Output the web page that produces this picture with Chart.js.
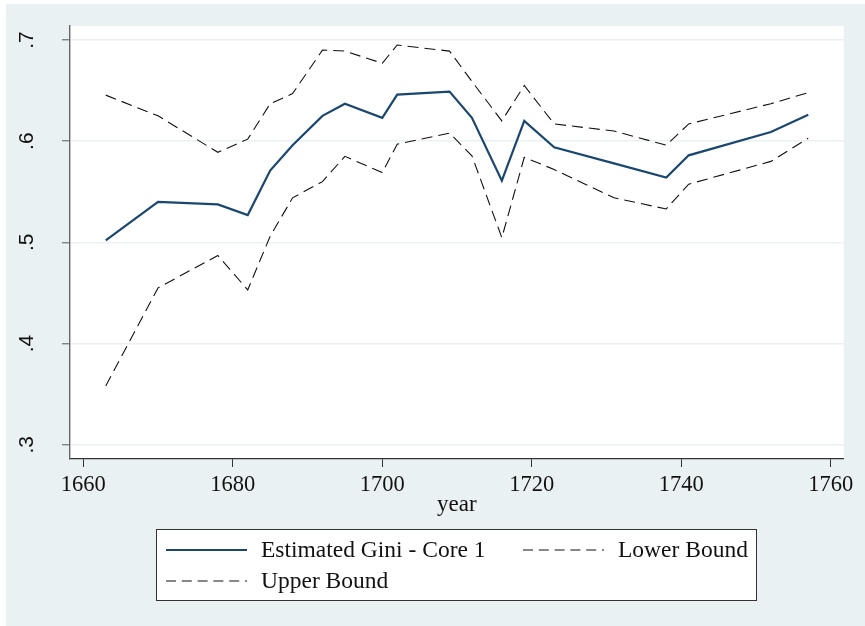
<!DOCTYPE html>
<html>
<head>
<meta charset="utf-8">
<script src="https://cdn.jsdelivr.net/npm/chart.js@4.4.1/dist/chart.umd.min.js"></script>
<style>
  html, body { margin: 0; padding: 0; background: #ffffff; }
  #wrap { width: 865px; height: 626px; position: relative; }
</style>
</head>
<body>
<div id="wrap"><canvas id="c"></canvas></div>
<script>
// ---- data ----
const years = [1663, 1670, 1678, 1682, 1685, 1688, 1692, 1695, 1700, 1702, 1709, 1712, 1716, 1719, 1723, 1731, 1738, 1741, 1752, 1757];
const giniEstimate = [0.502, 0.540, 0.5375, 0.527, 0.571, 0.596, 0.625, 0.637, 0.623, 0.646, 0.649, 0.623, 0.561, 0.620, 0.594, 0.578, 0.564, 0.586, 0.609, 0.626];
const lowerBound = [0.358, 0.455, 0.487, 0.453, 0.506, 0.544, 0.560, 0.585, 0.569, 0.597, 0.608, 0.5855, 0.5046, 0.584, 0.572, 0.544, 0.533, 0.5575, 0.580, 0.603];
const upperBound = [0.6455, 0.625, 0.589, 0.602, 0.637, 0.647, 0.690, 0.689, 0.677, 0.695, 0.689, 0.659, 0.620, 0.655, 0.617, 0.610, 0.596, 0.617, 0.637, 0.648];
const seriesLabels = ['Estimated Gini - Core 1', 'Lower Bound', 'Upper Bound'];
const xTickValues = [1660, 1680, 1700, 1720, 1740, 1760];
const yTickValues = [0.3, 0.4, 0.5, 0.6, 0.7];
const xTitle = 'year';

// ---- style ----
const OUTER = '#eaf1f3';
const GRID = '#eaf1f3';
const NAVY = '#1a476f';
const SERIF = '"Liberation Serif", "DejaVu Serif", serif';
const SANS = '"Liberation Sans", Arial, sans-serif';

const toXY = (arr) => years.map((yr, i) => ({ x: yr, y: arr[i] }));

const bgPlugin = {
  id: 'bg',
  beforeDraw(chart) {
    const { ctx, chartArea: a, width, height } = chart;
    ctx.save();
    ctx.fillStyle = '#ffffff';
    ctx.fillRect(0, 0, width, height);
    ctx.fillStyle = OUTER;
    ctx.fillRect(6, 4, width - 6, height - 4);
    ctx.fillStyle = '#ffffff';
    ctx.fillRect(a.left, a.top, a.right - a.left, a.bottom - a.top);
    ctx.restore();
  }
};

const legendPlugin = {
  id: 'boxLegend',
  afterDraw(chart) {
    const { ctx } = chart;
    ctx.save();
    ctx.fillStyle = '#ffffff';
    ctx.fillRect(156, 529.5, 601, 71);
    ctx.strokeStyle = '#333333';
    ctx.lineWidth = 1;
    ctx.strokeRect(156.5, 529.5, 600, 71);
    const slots = [[166, 550], [523, 550], [166, 581]];
    chart.data.datasets.forEach((ds, i) => {
      const [x, y] = slots[i];
      ctx.beginPath();
      ctx.strokeStyle = ds.borderColor;
      ctx.lineWidth = ds.borderWidth;
      ctx.setLineDash(ds.borderDash && ds.borderDash.length ? [10, 5.8] : []);
      ctx.moveTo(x, y);
      ctx.lineTo(x + 81, y);
      ctx.stroke();
      ctx.setLineDash([]);
      ctx.fillStyle = '#111111';
      ctx.font = '23.5px ' + SERIF;
      ctx.textBaseline = 'middle';
      ctx.textAlign = 'left';
      ctx.fillText(ds.label, x + 95, y + 0.5);
    });
    ctx.restore();
  }
};

new Chart(document.getElementById('c'), {
  type: 'line',
  data: {
    datasets: [
      { label: seriesLabels[0], data: toXY(giniEstimate), borderColor: NAVY, borderWidth: 2.2, pointRadius: 0, tension: 0, fill: false },
      { label: seriesLabels[1], data: toXY(lowerBound), borderColor: '#111111', borderWidth: 1.1, borderDash: [11, 6], pointRadius: 0, tension: 0, fill: false },
      { label: seriesLabels[2], data: toXY(upperBound), borderColor: '#111111', borderWidth: 1.1, borderDash: [11, 6], pointRadius: 0, tension: 0, fill: false }
    ]
  },
  options: {
    responsive: true,
    maintainAspectRatio: false,
    animation: false,
    devicePixelRatio: 1,
    layout: { padding: { left: 0, right: 21.3, top: 26, bottom: 0 } },
    plugins: { legend: { display: false }, tooltip: { enabled: false } },
    scales: {
      x: {
        type: 'linear',
        min: 1658.22,
        max: 1761.74,
        afterBuildTicks: (s) => { s.ticks = xTickValues.map(v => ({ value: v })); },
        afterFit: (s) => { s.height = 167; s.paddingLeft = 0; s.paddingRight = 0; },
        grid: { display: true, drawOnChartArea: false, drawTicks: true, tickLength: 8, tickColor: '#333333', tickWidth: 1 },
        border: { display: true, color: '#333333', width: 1.2 },
        ticks: { autoSkip: false, maxRotation: 0, minRotation: 0, padding: 5, color: '#111111', font: { family: SERIF, size: 22.5 }, callback: (v) => String(v) },
        title: { display: true, text: xTitle, color: '#111111', font: { family: SERIF, size: 23 }, padding: { top: 0, bottom: 107.5 } }
      },
      y: {
        type: 'linear',
        min: 0.2859,
        max: 0.7138,
        afterBuildTicks: (s) => { s.ticks = yTickValues.map(v => ({ value: v })); },
        afterFit: (s) => { s.width = 70; s.paddingTop = 0; s.paddingBottom = 0; },
        grid: { display: true, drawOnChartArea: true, color: GRID, lineWidth: 1.6, drawTicks: true, tickLength: 8, tickColor: '#555555', tickWidth: 1 },
        border: { display: true, color: '#666666', width: 1.4 },
        ticks: { autoSkip: false, minRotation: 90, maxRotation: 90, crossAlign: 'center', padding: 26, color: '#111111', font: { family: SANS, size: 21 }, callback: (v) => v.toFixed(1).replace(/^0/, '') }
      }
    }
  },
  plugins: [bgPlugin, legendPlugin]
});
</script>
</body>
</html>
